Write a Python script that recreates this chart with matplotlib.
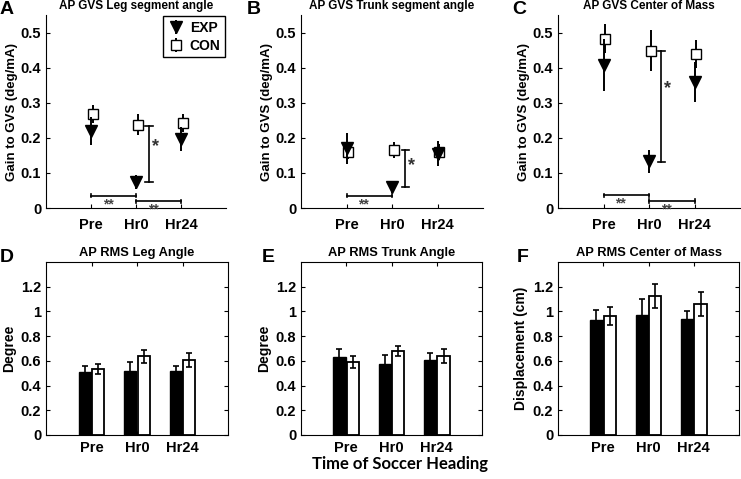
import matplotlib
matplotlib.use("Agg")
import matplotlib.pyplot as plt
import numpy as np

plt.rcParams['font.family'] = ['Liberation Sans', 'DejaVu Sans']
plt.rcParams['font.weight'] = 'bold'

# ---- data ----------------------------------------------------------------
sessions = ['Pre', 'Hr0', 'Hr24']
groups = ['EXP', 'CON']

# top row: GVS gain (deg/mA), mean and error
gvs_titles = ['AP GVS Leg segment angle', 'AP GVS Trunk segment angle', 'AP GVS Center of Mass']
gvs_exp = [[0.22, 0.073, 0.197], [0.170, 0.060, 0.155], [0.408, 0.133, 0.360]]
gvs_exp_err = [[0.040, 0.020, 0.035], [0.045, 0.017, 0.035], [0.075, 0.032, 0.057]]
gvs_con = [[0.268, 0.237, 0.242], [0.160, 0.165, 0.160], [0.483, 0.448, 0.440]]
gvs_con_err = [[0.025, 0.030, 0.025], [0.020, 0.023, 0.022], [0.040, 0.058, 0.040]]

# significance: vertical bracket (x, y_low, y_high, star_y) for each panel
sig_vert = [(2.29, 0.073, 0.235, 0.175), (2.29, 0.060, 0.165, 0.122), (2.27, 0.132, 0.448, 0.340)]
# horizontal brackets (x_start, x_end, y) per panel
sig_horz = [[(1, 2, 0.035), (2, 3, 0.019)],
            [(1, 2, 0.035)],
            [(1, 2, 0.036), (2, 3, 0.020)]]

# bottom row: RMS sway
rms_titles = ['AP RMS Leg Angle', 'AP RMS Trunk Angle', 'AP RMS Center of Mass']
rms_ylabels = ['Degree', 'Degree', 'Displacement (cm)']
rms_exp = [[0.512, 0.520, 0.515], [0.628, 0.574, 0.607], [0.930, 0.968, 0.936]]
rms_exp_err = [[0.045, 0.068, 0.045], [0.072, 0.073, 0.060], [0.080, 0.130, 0.070]]
rms_con = [[0.534, 0.637, 0.607], [0.593, 0.682, 0.642], [0.963, 1.125, 1.060]]
rms_con_err = [[0.040, 0.054, 0.060], [0.050, 0.040, 0.057], [0.075, 0.095, 0.095]]

letters = ['A', 'B', 'C', 'D', 'E', 'F']

# ---- figure ---------------------------------------------------------------
W, H = 741, 479
fig = plt.figure(figsize=(W / 100, H / 100), dpi=100)

def px_axes(l, t, r, b):
    return fig.add_axes([l / W, 1 - b / H, (r - l) / W, (b - t) / H])

top_pos = [(46, 15, 226, 208), (301, 15, 483, 208), (558, 15, 740, 208)]
bot_pos = [(46, 262, 228, 435), (301, 262, 482, 435), (558, 262, 739, 435)]

x = np.arange(1, 4)
tfs = 10.5   # tick labels

for i in range(3):
    ax = px_axes(*top_pos[i])
    ax.errorbar(x + 0.04, gvs_con[i], yerr=gvs_con_err[i], fmt='s', color='k',
                mfc='white', mec='k', ms=6.5, mew=1, elinewidth=1.4, capsize=0,
                label='CON', zorder=3)
    ax.errorbar(x, gvs_exp[i], yerr=gvs_exp_err[i], fmt='v', color='k',
                ms=9, elinewidth=1.4, capsize=0, label='EXP', zorder=4)
    # vertical significance bracket
    vx, vlo, vhi, sy = sig_vert[i]
    ax.plot([vx, vx], [vlo, vhi], color='k', lw=1.2)
    ax.plot([vx - 0.08, vx + 0.08], [vlo, vlo], color='k', lw=1.2)
    ax.plot([vx - 0.08, vx + 0.08], [vhi, vhi], color='k', lw=1.2)
    ax.text(vx + 0.06, sy, '*', fontsize=13, color='#333333', ha='left', va='center')
    for (x0, x1, hy) in sig_horz[i]:
        ax.plot([x0, x1], [hy, hy], color='k', lw=1.2)
        ax.plot([x0, x0], [hy - 0.005, hy + 0.005], color='k', lw=1.2)
        ax.plot([x1, x1], [hy - 0.005, hy + 0.005], color='k', lw=1.2)
        ax.text(x0 + 0.38, hy - 0.004, '**', fontsize=10, color='#444444',
                ha='center', va='top')
    ax.set_xlim(0, 4)
    ax.set_ylim(0, 0.55)
    ax.set_xticks(x)
    ax.set_xticklabels(sessions)
    ax.set_yticks(np.arange(0, 0.51, 0.1))
    ax.set_yticklabels(['0', '0.1', '0.2', '0.3', '0.4', '0.5'])
    ax.spines['top'].set_visible(False)
    ax.spines['right'].set_visible(False)
    ax.tick_params(direction='in', length=3, labelsize=tfs, width=0.8)
    ax.tick_params(axis='x', pad=7)
    ax.set_ylabel('Gain to GVS (deg/mA)', fontsize=9.5, fontweight='bold', labelpad=2)
    ax.set_title(gvs_titles[i], fontsize=8.5, fontweight='bold', pad=4)
    if i == 0:
        h, l = ax.get_legend_handles_labels()
        leg = ax.legend(h[::-1], l[::-1], loc='upper right', fancybox=False,
                        edgecolor='k', framealpha=1, fontsize=10,
                        handlelength=1.2, handletextpad=0.4, borderpad=0.3,
                        borderaxespad=0.1, labelspacing=0.3)
        leg.get_frame().set_linewidth(1)

for i in range(3):
    ax = px_axes(*bot_pos[i])
    ax.bar(x - 0.15, rms_exp[i], width=0.27, color='k', edgecolor='k', lw=1, zorder=2)
    ax.bar(x + 0.15, rms_con[i], width=0.27, color='white', edgecolor='k', lw=1.3, zorder=2)
    ax.errorbar(x - 0.15, rms_exp[i], yerr=rms_exp_err[i], fmt='none', ecolor='k',
                elinewidth=1.2, capsize=2.5, capthick=1.2, zorder=3)
    ax.errorbar(x + 0.15, rms_con[i], yerr=rms_con_err[i], fmt='none', ecolor='k',
                elinewidth=1.2, capsize=2.5, capthick=1.2, zorder=3)
    ax.set_xlim(0, 4)
    ax.set_ylim(0, 1.4)
    ax.set_xticks(x)
    ax.set_xticklabels(sessions)
    ax.set_yticks(np.arange(0, 1.21, 0.2))
    ax.set_yticklabels(['0', '0.2', '0.4', '0.6', '0.8', '1', '1.2'])
    ax.tick_params(direction='in', length=3, labelsize=tfs, width=0.8,
                   top=True, right=True)
    ax.tick_params(axis='x', pad=4)
    ax.set_ylabel(rms_ylabels[i], fontsize=10, fontweight='bold', labelpad=3)
    ax.set_title(rms_titles[i], fontsize=9.3, fontweight='bold', pad=4)

# panel letters
letter_pos = [(0, 10), (247, 10), (512, 10), (0, 257), (262, 257), (517, 257)]
for lt, (lx, ly) in zip(letters, letter_pos):
    fig.text(lx / W, 1 - ly / H, lt, fontsize=14, fontweight='bold', ha='left', va='center')

fig.text(400 / W, 1 - 464 / H, 'Time of Soccer Heading', fontsize=12, fontweight='bold',
         family=['Lato', 'DejaVu Sans'], ha='center', va='center')

fig.savefig('out.png', dpi=100)
